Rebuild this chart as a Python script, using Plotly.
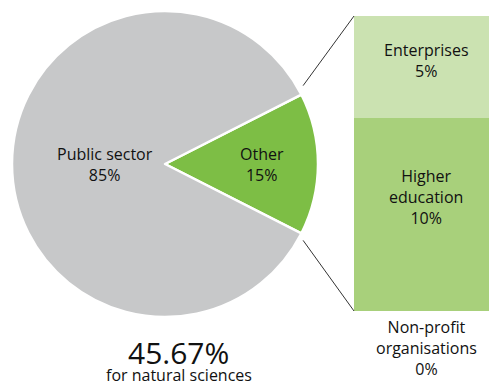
import math
import plotly.graph_objects as go

W, H = 489, 387

pie_labels = ["Other", "Public sector"]
pie_values = [15, 85]
pie_colors = ["#7dbe45", "#c7c8c9"]

bar_labels = ["Non-profit<br>organisations", "Higher<br>education", "Enterprises"]
bar_values = [0.0, 9.8, 5.2]
bar_text = ["0%", "10%", "5%"]
bar_colors = ["#a8d07b", "#a8d07b", "#cbe2b1"]

main_value = "45.67%"
main_caption = "for natural sciences"

FONT = "Open Sans"
TXT = "#111111"
FS = 16

# pie geometry (pixels)
cx, cy, r = 165, 164, 153
pie_dom_x = [(cx - r) / W, (cx + r) / W]
pie_dom_y = [1 - (cy + r) / H, 1 - (cy - r) / H]

# bar geometry (pixels)
bx0, by0, by1 = 354, 16, 311

fig = go.Figure()
fig.add_trace(go.Pie(
    labels=pie_labels, values=pie_values, sort=False, direction="clockwise",
    rotation=90 - 27, marker=dict(colors=pie_colors, line=dict(color="white", width=2.5)),
    textinfo="none", hoverinfo="label+percent", showlegend=False,
    domain=dict(x=pie_dom_x, y=pie_dom_y),
))

for lab, v, c in zip(bar_labels, bar_values, bar_colors):
    fig.add_trace(go.Bar(x=[0], y=[v], marker=dict(color=c, line=dict(width=0)),
                         name=lab.replace("<br>", " "), showlegend=False,
                         xaxis="x", yaxis="y"))

total = sum(bar_values)
fig.update_layout(
    width=W, height=H, margin=dict(l=0, r=0, t=0, b=0),
    paper_bgcolor="white", plot_bgcolor="white",
    barmode="stack", bargap=0,
    xaxis=dict(domain=[bx0 / W, 1], range=[-0.5, 0.5], visible=False, fixedrange=True),
    yaxis=dict(domain=[1 - by1 / H, 1 - by0 / H], range=[0, total], visible=False, fixedrange=True),
    font=dict(family=FONT, color=TXT, size=FS),
)

ann = []
def px(x, y, text, size=FS, yanchor="middle"):
    ann.append(dict(x=x / W, y=1 - y / H, xref="paper", yref="paper", text=text,
                    showarrow=False, font=dict(size=size, family=FONT, color=TXT),
                    xanchor="center", yanchor=yanchor, borderpad=0))

px(105, 164, f"{pie_labels[1]}<br>{pie_values[1]}%")
px(262, 164, f"{pie_labels[0]}<br>{pie_values[0]}%")

bar_cx = 426
px(bar_cx, 60, f"{bar_labels[2]}<br>{bar_text[2]}")
px(bar_cx, 197, f"{bar_labels[1]}<br>{bar_text[1]}")
px(bar_cx, 348, f"{bar_labels[0]}<br>{bar_text[0]}")

px(178, 352, main_value, size=30)
px(179, H, main_caption, yanchor="bottom")

fig.update_layout(annotations=ann)

a = math.radians(27)
ex = cx + (r + 2) * math.cos(a)
shapes = [
    dict(type="line", xref="paper", yref="paper",
         x0=ex / W, y0=1 - (cy - (r + 2) * math.sin(a) - 8) / H,
         x1=bx0 / W, y1=1 - by0 / H, line=dict(color="#333333", width=1)),
    dict(type="line", xref="paper", yref="paper",
         x0=ex / W, y0=1 - (cy + (r + 2) * math.sin(a) + 6) / H,
         x1=bx0 / W, y1=1 - by1 / H, line=dict(color="#333333", width=1)),
]
fig.update_layout(shapes=shapes)

fig.write_html("out.html", config=dict(displayModeBar=False))

with open("out.html", "r", encoding="utf-8") as f:
    html = f.read()
html = html.replace("<body>", '<body style="margin:0;padding:0;overflow:hidden">', 1)
with open("out.html", "w", encoding="utf-8") as f:
    f.write(html)
